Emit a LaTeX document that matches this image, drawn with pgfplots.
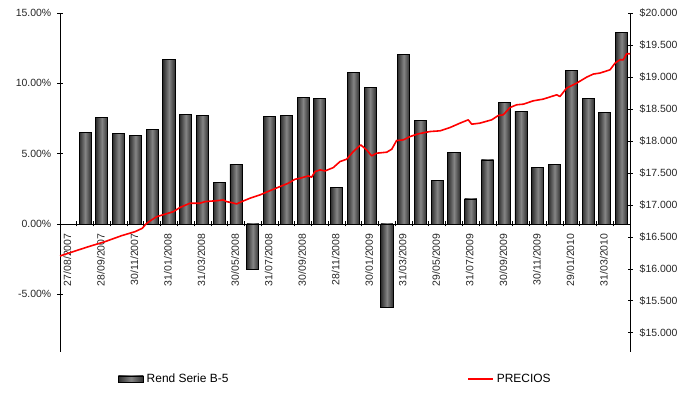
\documentclass[border=0pt]{standalone}
\usepackage{pgfplots}
\pgfplotsset{compat=1.18}
\usepackage{pgfplotstable}
\usepackage{fontspec}
\setmainfont{Liberation Sans}

% Monthly returns of the series (percent), one bar per period
\pgfplotstableread{
pos ret
1   6.51
2   7.55
3   6.44
4   6.30
5   6.72
6   11.70
7   7.76
8   7.69
9   2.96
10  4.24
11  -3.22
12  7.62
13  7.74
14  9.00
15  8.93
16  2.62
17  10.75
18  9.71
19  -5.92
20  12.05
21  7.36
22  3.10
23  5.11
24  1.78
25  4.55
26  8.64
27  8.03
28  4.00
29  4.24
30  10.94
31  8.93
32  7.95
33  13.59
}\rendtable

% Price path on the same period scale
\pgfplotstableread{
x      p
-0.50  16201
0.40   16279
1.19   16346
2.18   16425
3.18   16519
3.97   16581
4.41   16634
4.61   16697
4.87   16749
5.27   16816
5.76   16854
6.26   16894
6.66   16960
7.25   17026
7.85   17026
8.15   17051
8.85   17066
9.24   17077
9.44   17051
9.74   17035
10.04  17015
10.34  17051
10.83  17104
11.43  17156
12.03  17223
12.62  17286
13.12  17339
13.52  17401
13.82  17417
14.31  17453
14.51  17433
14.71  17520
15.01  17547
15.31  17531
15.80  17583
16.20  17677
16.60  17714
16.99  17833
17.44  17938
17.79  17860
18.09  17766
18.39  17808
18.99  17824
19.29  17871
19.58  18006
19.98  18017
20.38  18068
20.87  18111
21.57  18147
22.17  18158
22.76  18209
23.36  18278
23.85  18330
24.06  18262
24.55  18278
25.25  18330
25.64  18397
25.94  18408
26.34  18522
26.74  18565
27.14  18575
27.73  18627
28.33  18654
29.13  18721
29.32  18694
29.72  18826
30.32  18904
30.92  18998
31.31  19045
31.71  19061
32.31  19112
32.61  19217
32.90  19269
33.10  19269
33.30  19363
33.50  19363
}\pricetable

\definecolor{bardark}{HTML}{2E2E2E}
\definecolor{barmid}{HTML}{858585}
\definecolor{pricered}{HTML}{FF0000}

\tikzset{
  barshade/.style={draw=black, line width=0.9pt,
    left color=bardark, right color=bardark, middle color=barmid},
}

\begin{document}
\begin{tikzpicture}
\useasboundingbox (0,0) rectangle (696bp,396bp);

% Returns (left axis)
\begin{axis}[
  at={(60bp,44bp)}, anchor=south west,
  scale only axis, width=570bp, height=339bp,
  xmin=-0.5, xmax=33.5,
  ymin=-9.1, ymax=15,
  axis y line*=left, axis x line*=middle,
  axis line style={line width=0.7pt, black},
  tick align=center,
  major tick length=5bp, minor tick length=5bp,
  xtick={0,2,...,32},
  xticklabels={27/08/2007,28/09/2007,30/11/2007,31/01/2008,31/03/2008,30/05/2008,
    31/07/2008,30/09/2008,28/11/2008,30/01/2009,31/03/2009,29/05/2009,
    31/07/2009,30/09/2009,30/11/2009,29/01/2010,31/03/2010},
  minor xtick={0.5,1.5,...,33.5},
  major x tick style={draw=none},
  minor x tick style={black, line width=0.7pt},
  ytick={-5,0,5,10,15},
  y tick style={black, line width=0.7pt},
  yticklabel={\pgfmathprintnumber[fixed,fixed zerofill,precision=2,assume math mode=true]{\tick}\%},
  ticklabel style={font=\fontsize{10.5}{12}\selectfont, text=black!85},
  % shifts act in the rotated frame: xshift moves the label down the page
  xticklabel style={rotate=90, anchor=east, inner sep=2bp, xshift=-5bp, yshift=1bp},
  yticklabel style={inner sep=1bp, xshift=-5bp},
  clip=false,
]
% each bar is its own path so that it gets its own cylinder shading
\pgfplotsinvokeforeach{1,...,33}{
  \addplot[ybar, bar width=0.72, bar shift=0pt, barshade,
    x filter/.expression={abs(x-#1)<0.2 ? x : nan}]
    table[x=pos, y=ret] {\rendtable};
}
\end{axis}

% Prices (right axis)
\begin{axis}[
  at={(60bp,44bp)}, anchor=south west,
  scale only axis, width=570bp, height=339bp,
  xmin=-0.5, xmax=33.5,
  ymin=14700, ymax=20000,
  axis y line*=right, axis x line=none,
  axis line style={line width=0.7pt, black},
  tick align=center, major tick length=5bp,
  ytick={15000,15500,...,20000},
  scaled y ticks=false,
  y tick style={black, line width=0.7pt},
  yticklabel={\$\pgfmathprintnumber[fixed,precision=0,1000 sep={.},assume math mode=true]{\tick}},
  ticklabel style={font=\fontsize{10.5}{12}\selectfont, text=black!85},
  yticklabel style={inner sep=1bp, xshift=6bp},
  legend columns=2,
  legend style={at={(0.1018,-0.0796)}, anchor=west, draw=none, fill=none,
    font=\fontsize{12}{14}\selectfont, inner sep=0pt,
    nodes={inner sep=3bp},
    /tikz/every even column/.append style={column sep=236bp}},
  legend cell align=left,
  clip=false,
]
\addlegendimage{legend image code/.code={
  \path[barshade, line width=0.5pt] (0bp,-3bp) rectangle (25bp,3bp);}}
\addlegendentry{Rend Serie B-5}
\addplot[pricered, line width=1.6pt, line join=round,
  legend image code/.code={\draw[pricered, line width=1.4pt] (0bp,0bp) -- (25bp,0bp);}]
  table[x=x, y=p] {\pricetable};
\addlegendentry{PRECIOS}
\end{axis}
\end{tikzpicture}
\end{document}
